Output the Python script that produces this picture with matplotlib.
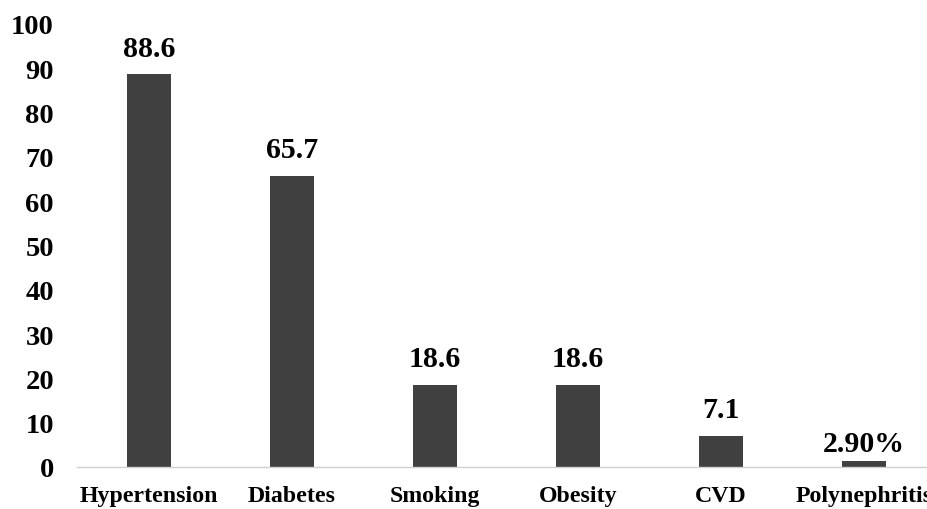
import matplotlib.pyplot as plt

categories = ['Hypertension', 'Diabetes', 'Smoking', 'Obesity', 'CVD', 'Polynephritis']
values = [88.6, 65.7, 18.6, 18.6, 7.1, 1.4]
labels = ['88.6', '65.7', '18.6', '18.6', '7.1', '2.90%']
yticks = list(range(0, 101, 10))

plt.rcParams['font.family'] = ['Liberation Serif', 'DejaVu Serif']
plt.rcParams['font.weight'] = 'bold'

fig = plt.figure(figsize=(9.27, 5.10), dpi=100)
ax = fig.add_axes([0.0836, 0.0824, 0.9255, 0.8686])

x = range(len(categories))
bars = ax.bar(x, values, width=0.31, color='#404040')

# label offsets (points) - the last one sits closer to its bar
offsets = [9, 9, 9, 9, 9, 3]
for b, lab, off in zip(bars, labels, offsets):
    ax.annotate(lab, (b.get_x() + b.get_width() / 2, b.get_height()),
                xytext=(0, off), textcoords='offset points',
                ha='center', va='bottom', fontsize=21.5, fontweight='bold')

ax.set_xlim(-0.5, len(categories) - 0.5)
ax.set_ylim(0, 100)
ax.set_yticks(yticks)
ax.set_xticks(list(x))
ax.set_xticklabels(categories, fontsize=17.2, fontweight='bold')
ax.tick_params(axis='y', labelsize=20.5, length=0, pad=17)
ax.tick_params(axis='x', length=0, pad=13)

for s in ['top', 'right', 'left']:
    ax.spines[s].set_visible(False)
ax.spines['bottom'].set_color('#d0d0d0')
ax.spines['bottom'].set_linewidth(1.0)

plt.savefig('out.png', dpi=100)
